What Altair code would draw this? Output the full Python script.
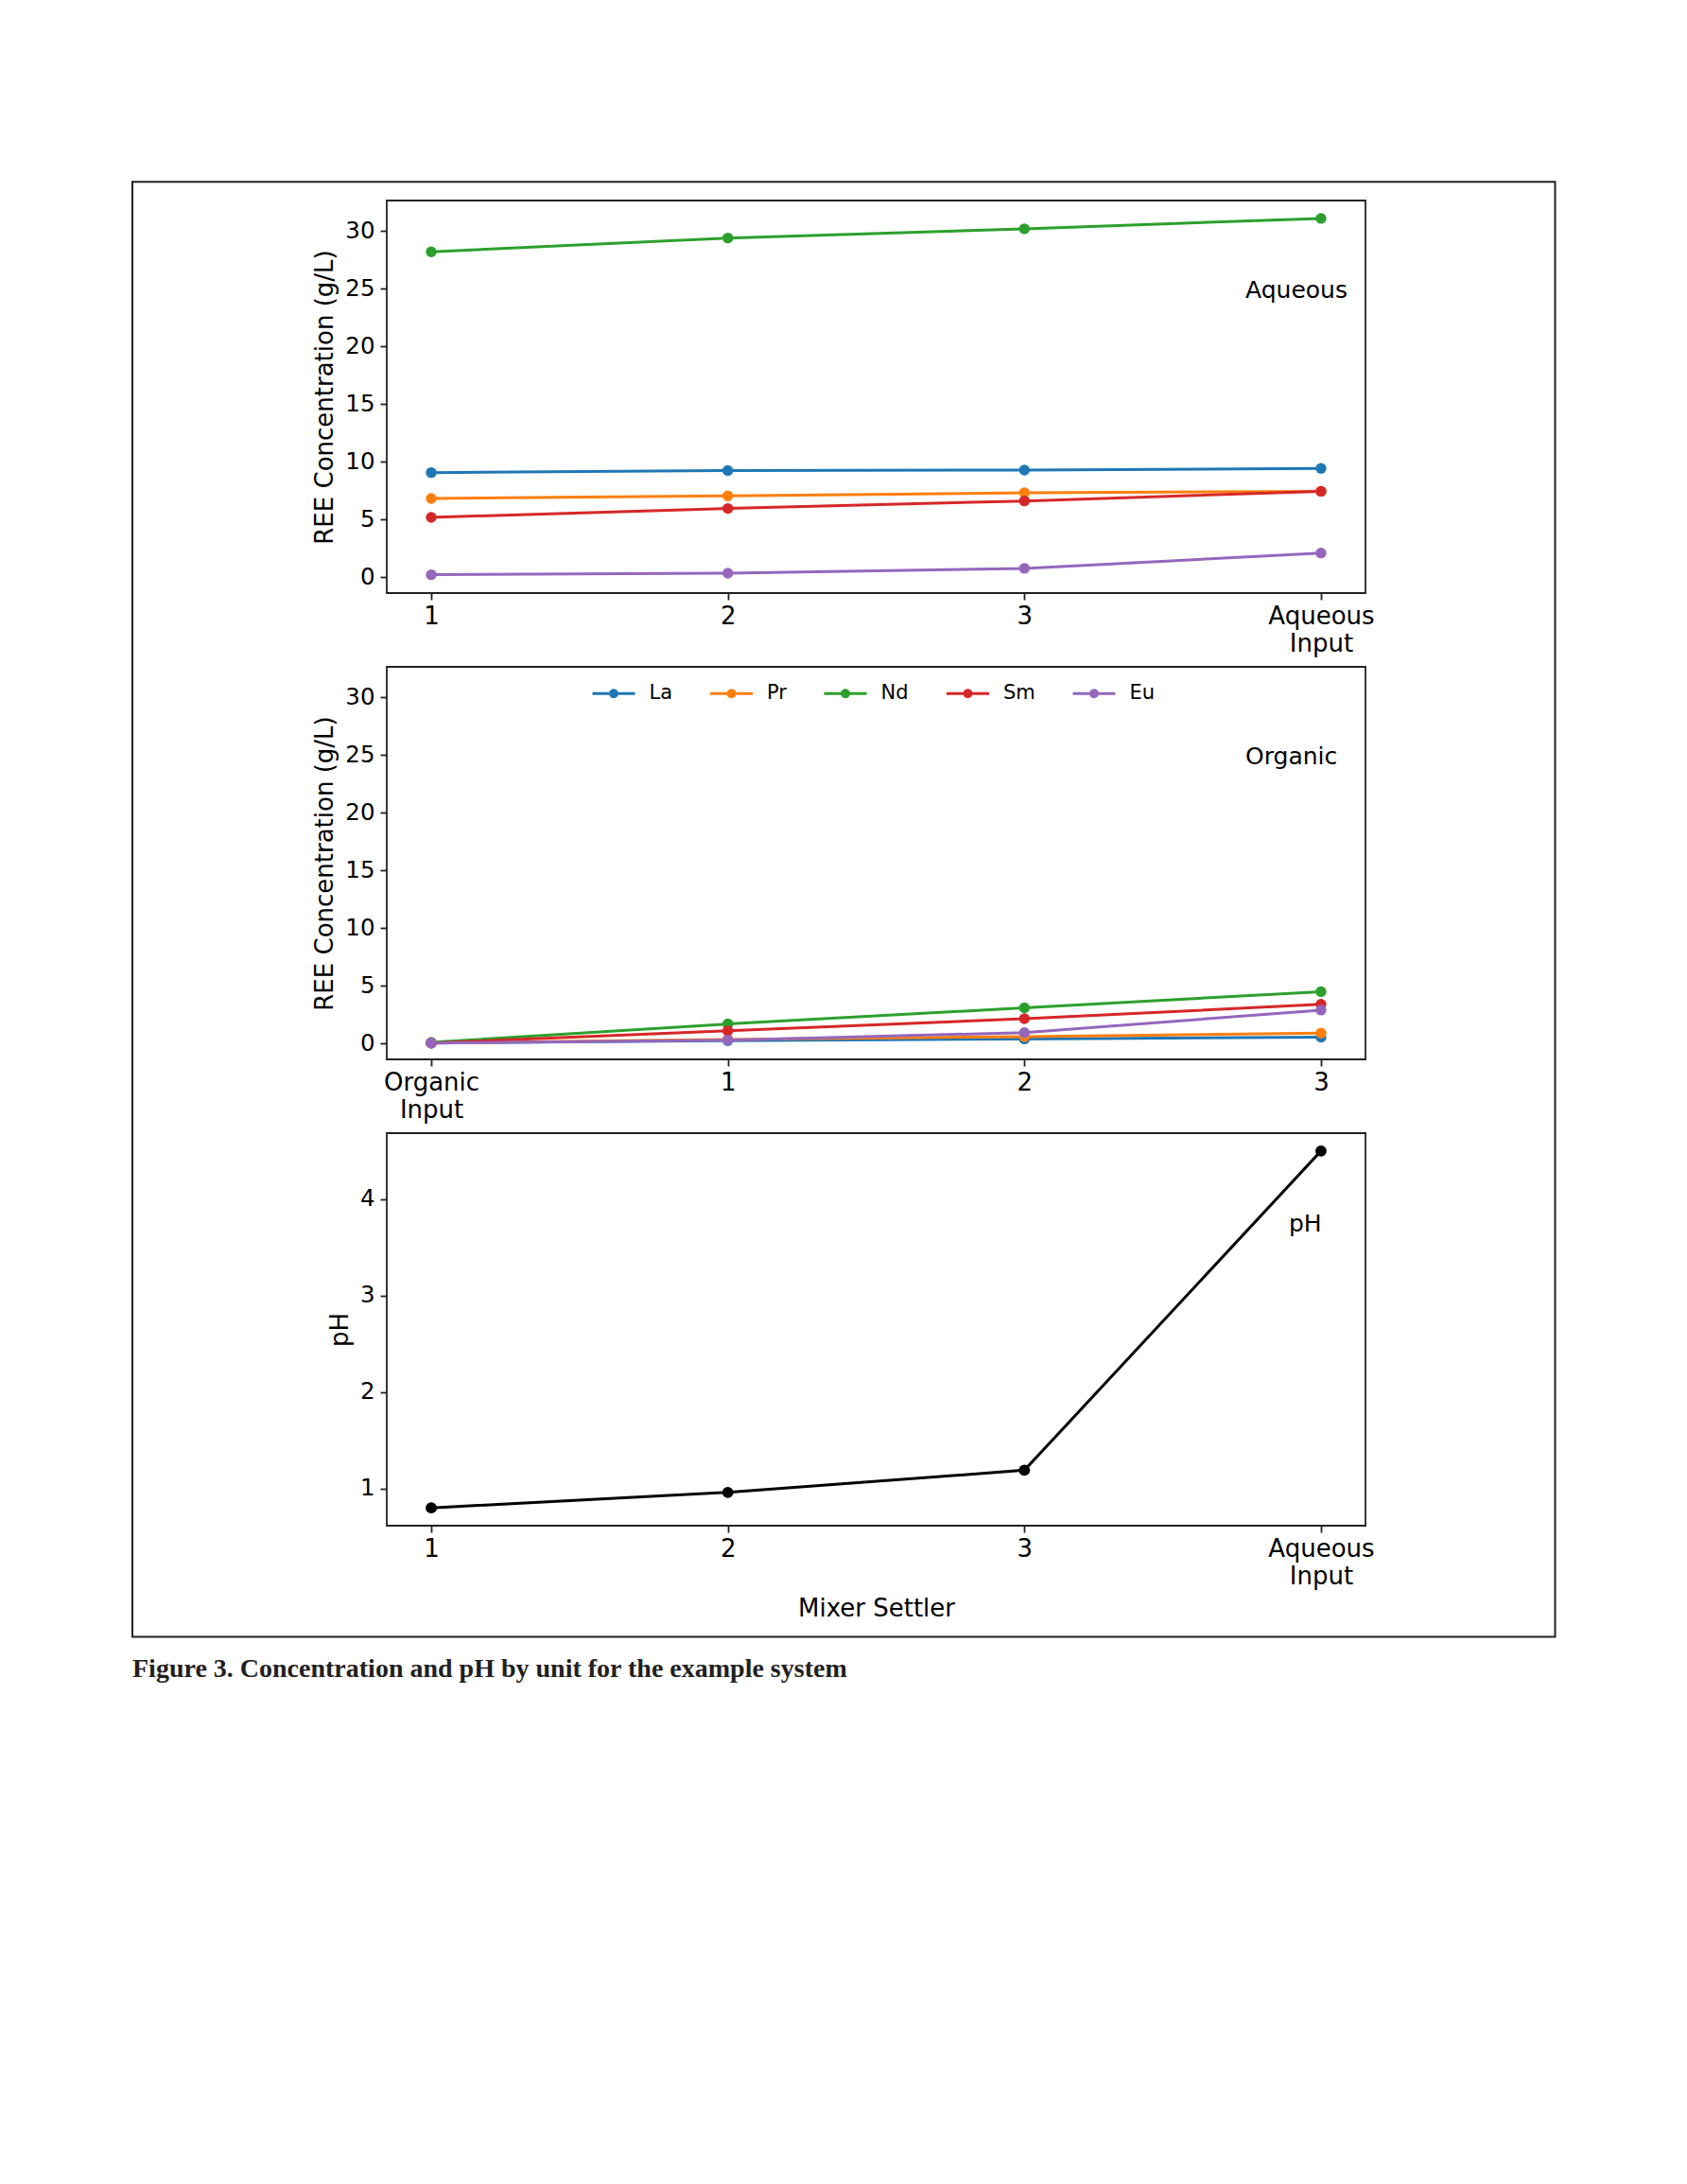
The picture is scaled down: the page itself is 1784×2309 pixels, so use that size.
import math
import altair as alt
import pandas as pd

# ---------------- data ----------------
elements = ["La", "Pr", "Nd", "Sm", "Eu"]
colors = ["#1f77b4", "#ff7f0e", "#2ca02c", "#d62728", "#9467bd"]

aq_units = ["1", "2", "3", "Aqueous Input"]
aq_La = [9.07, 9.24, 9.29, 9.43]
aq_Pr = [6.83, 7.05, 7.32, 7.45]
aq_Nd = [28.2, 29.4, 30.2, 31.1]
aq_Sm = [5.19, 5.96, 6.61, 7.45]
aq_Eu = [0.22, 0.35, 0.77, 2.10]

org_units = ["Organic Input", "1", "2", "3"]
org_La = [0.05, 0.25, 0.40, 0.55]
org_Pr = [0.05, 0.35, 0.60, 0.90]
org_Nd = [0.10, 1.70, 3.10, 4.50]
org_Sm = [0.05, 1.10, 2.15, 3.40]
org_Eu = [0.05, 0.30, 0.95, 2.90]

ph_units = ["1", "2", "3", "Aqueous Input"]
ph_values = [0.80, 0.96, 1.19, 4.50]

conc_ticks = [0, 5, 10, 15, 20, 25, 30]
conc_domain = [-1.37, 32.65]
ph_ticks = [1, 2, 3, 4]
ph_domain = [0.615, 4.685]

annotations = ["Aqueous", "Organic", "pH"]
caption = "Figure 3. Concentration and pH by unit for the example system"

# ---------------- layout constants ----------------
W, H = 1035, 415

# legend glyph: a short line with a dot in the middle (unit coordinates)
_r = 0.22
_poly = " ".join(
    ("M" if k == 0 else "L")
    + f"{_r * math.cos(2 * math.pi * k / 24):.3f},{_r * math.sin(2 * math.pi * k / 24):.3f}"
    for k in range(24)
)
legend_path = "M-1,-0.07L1,-0.07L1,0.07L-1,0.07Z " + _poly + "Z"


def long_df(units, series):
    rows = []
    for el, vals in zip(elements, series):
        for i, (u, v) in enumerate(zip(units, vals)):
            rows.append({"unit": u, "idx": i, "element": el, "value": v})
    return pd.DataFrame(rows)


def x_enc(units, title=None):
    return alt.X(
        "unit:N",
        scale=alt.Scale(type="point", domain=units, padding=0.15),
        axis=alt.Axis(title=title, labelExpr="split(datum.label, ' ')"),
    )


def conc_panel(units, series, label, legend):
    df = long_df(units, series)
    x = x_enc(units)
    y = alt.Y(
        "value:Q",
        scale=alt.Scale(domain=conc_domain, nice=False, zero=False),
        axis=alt.Axis(values=conc_ticks, title="REE Concentration (g/L)"),
    )
    base = alt.Chart(df)
    lines = [
        base.transform_filter(alt.datum.element == el)
        .mark_line(strokeWidth=3, color=c)
        .encode(x=x, y=y, order="idx:Q")
        for el, c in zip(elements, colors)
    ]
    pts = base.mark_point(filled=True, size=130, opacity=1).encode(
        x=x, y=y,
        color=alt.Color("element:N",
                        scale=alt.Scale(domain=elements, range=colors),
                        legend=legend),
    )
    ann = alt.Chart(pd.DataFrame({"t": [label]})).mark_text(
        align="left", baseline="alphabetic", fontSize=25, color="black",
        font="DejaVu Sans",
    ).encode(text="t:N", x=alt.value(908), y=alt.value(103))
    return lines + [pts, ann]


# top panel (Aqueous) with the figure frame
top_layers = conc_panel(aq_units, [aq_La, aq_Pr, aq_Nd, aq_Sm, aq_Eu],
                        annotations[0], None)
frame = alt.Chart(pd.DataFrame({"f": [0]})).mark_rect(
    fillOpacity=0, stroke="#222222", strokeWidth=2
).encode(x=alt.value(-269), x2=alt.value(1235.5),
         y=alt.value(-19.7), y2=alt.value(1518.5))
top = alt.layer(frame, *top_layers).properties(width=W, height=H)

# middle panel (Organic) with legend
legend = alt.Legend(
    orient="none", legendX=217.5, legendY=5.5, direction="horizontal",
    title=None, symbolType=legend_path, symbolSize=2025,
    symbolStrokeWidth=0, labelFontSize=21, labelColor="black",
    labelOffset=15, columnPadding=39.5,
)
mid_layers = conc_panel(org_units, [org_La, org_Pr, org_Nd, org_Sm, org_Eu],
                        annotations[1], legend)
mid = alt.layer(*mid_layers).properties(width=W, height=H)

# bottom panel (pH)
ph_df = pd.DataFrame({"unit": ph_units, "idx": list(range(len(ph_units))),
                      "value": ph_values})
xb = x_enc(ph_units, title="Mixer Settler")
yb = alt.Y("value:Q", scale=alt.Scale(domain=ph_domain, nice=False, zero=False),
           axis=alt.Axis(values=ph_ticks, title="pH"))
ph_line = alt.Chart(ph_df).mark_line(color="black", strokeWidth=3).encode(
    x=xb, y=yb, order="idx:Q")
ph_pts = alt.Chart(ph_df).mark_point(filled=True, size=140, opacity=1,
                                     color="black").encode(x=xb, y=yb)
ph_ann = alt.Chart(pd.DataFrame({"t": [annotations[2]]})).mark_text(
    align="left", baseline="alphabetic", fontSize=25, color="black",
    font="DejaVu Sans",
).encode(text="t:N", x=alt.value(954), y=alt.value(104))
cap = alt.Chart(pd.DataFrame({"t": [caption]})).mark_text(
    align="left", baseline="middle", font="Liberation Serif",
    fontWeight="bold", fontSize=28, color="#231f20",
).encode(text="t:N", x=alt.value(-269), y=alt.value(566.6))
bot = alt.layer(ph_line, ph_pts, ph_ann, cap).properties(width=W, height=H)

chart = (
    alt.vconcat(top, mid, bot, spacing=78, bounds="flush")
    .resolve_scale(color="independent")
    .resolve_legend(color="independent")
    .properties(padding={"left": 130, "top": 182, "right": 20, "bottom": 20})
    .configure(background="white", font="DejaVu Sans")
    .configure_view(stroke="#222222", strokeWidth=1.8)
    .configure_legend(labelFont="DejaVu Sans", padding=0, symbolOpacity=1)
    .configure_axis(
        grid=False, domain=False, tickColor="#222222", tickWidth=1.8,
        tickSize=7, labelColor="black", titleColor="black",
        titleFontWeight="normal", labelFont="DejaVu Sans",
        titleFont="DejaVu Sans", titleFontSize=26,
    )
    .configure_axisX(labelFontSize=26, labelPadding=4, labelLineHeight=29,
                     labelAngle=0, titlePadding=8)
    .configure_axisY(labelFontSize=24.5, labelPadding=6, titlePadding=8)
)

chart.save("out.html", embed_options={"renderer": "svg", "actions": False})
